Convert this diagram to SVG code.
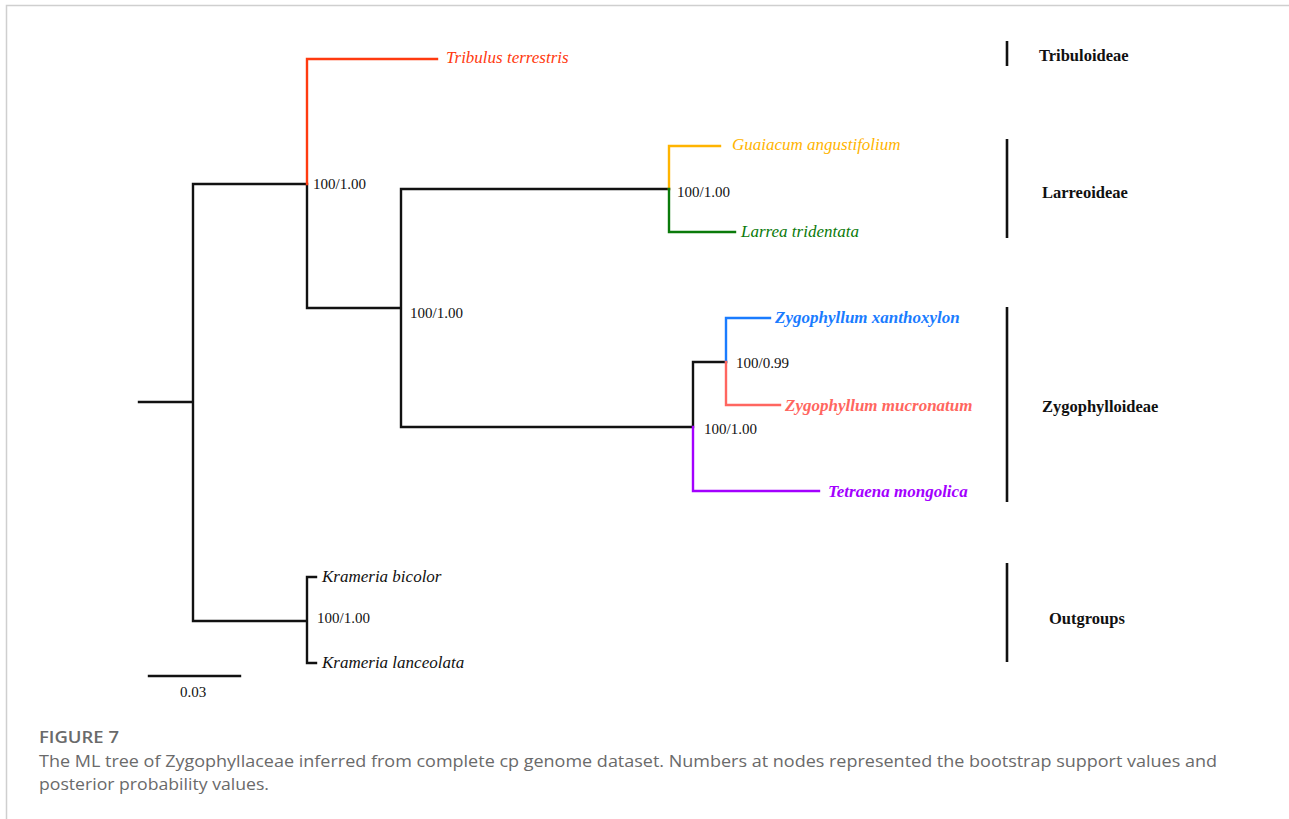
<svg xmlns="http://www.w3.org/2000/svg" width="1289" height="819" viewBox="0 0 1289 819">
<style>
.br{fill:none;stroke-width:2.4;stroke-linecap:square}
.k{stroke:#111}
.sp{font-family:"Liberation Serif","Times New Roman",serif;font-size:17px;font-style:italic}
.spb{font-family:"Liberation Serif","Times New Roman",serif;font-size:17px;font-style:italic;font-weight:bold}
.sup{font-family:"Liberation Serif","Times New Roman",serif;font-size:15px;fill:#111}
.grp{font-family:"Liberation Serif","Times New Roman",serif;font-size:16.5px;font-weight:bold;fill:#111}
.bar{stroke:#111;stroke-width:2.6}
.cap{font-family:"Open Sans","Noto Sans",sans-serif;fill:#6a6a6a;font-size:17px}
</style>
<rect x="0" y="0" width="1289" height="819" fill="#fff"/>
<path d="M6.5 819 V5.5 H1289" fill="none" stroke="#cfcfcf" stroke-width="1.5"/>
<g id="connectors">
<path class="br k" d="M139 402 H193 M193 184 V621 M193 184 H307 M307 184 V308 M307 308 H401 M401 189 V427 M401 189 H669 M401 427 H693 M693 362 V427 M693 362 H726 M193 621 H307 M307 577 V663 M307 577 H316 M307 663 H316"/>
<path class="br" stroke="#ff3a0f" d="M307 184 V59 H437"/>
<path class="br" stroke="#ffb400" d="M669 189 V146 H720"/>
<path class="br" stroke="#0a7a0a" d="M669 189 V232 H735"/>
<path class="br" stroke="#1a7cff" d="M726 362 V318 H770"/>
<path class="br" stroke="#ff6660" d="M726 362 V405 H780"/>
<path class="br" stroke="#a300ff" d="M693 427 V491 H819"/>
<path class="br k" d="M149 676 H240"/>
</g>
<g id="node-tribulus"><text class="sp" x="446" y="63" fill="#ff3a0f">Tribulus terrestris</text></g>
<g id="node-guaiacum"><text class="sp" x="732" y="150" fill="#ffb400">Guaiacum angustifolium</text></g>
<g id="node-larrea"><text class="sp" x="741" y="237" fill="#0a7a0a">Larrea tridentata</text></g>
<g id="node-zxan"><text class="spb" x="775" y="323" fill="#1a7cff">Zygophyllum xanthoxylon</text></g>
<g id="node-zmuc"><text class="spb" x="785" y="411" fill="#ff6660">Zygophyllum mucronatum</text></g>
<g id="node-tetraena"><text class="spb" x="828" y="497" fill="#a300ff">Tetraena mongolica</text></g>
<g id="node-kbicolor"><text class="sp" x="322" y="582" fill="#111">Krameria bicolor</text></g>
<g id="node-klanceolata"><text class="sp" x="322" y="668" fill="#111">Krameria lanceolata</text></g>
<g id="support">
<text class="sup" x="313" y="189">100/1.00</text>
<text class="sup" x="410" y="318">100/1.00</text>
<text class="sup" x="677" y="197">100/1.00</text>
<text class="sup" x="736" y="368">100/0.99</text>
<text class="sup" x="704" y="434">100/1.00</text>
<text class="sup" x="317" y="623">100/1.00</text>
<text class="sup" x="193" y="697" text-anchor="middle">0.03</text>
</g>
<g id="groups">
<line class="bar" x1="1007" y1="41" x2="1007" y2="66"/>
<line class="bar" x1="1007" y1="139" x2="1007" y2="238"/>
<line class="bar" x1="1007" y1="307" x2="1007" y2="502"/>
<line class="bar" x1="1007" y1="563" x2="1007" y2="662"/>
<text class="grp" x="1039" y="61">Tribuloideae</text>
<text class="grp" x="1042" y="198">Larreoideae</text>
<text class="grp" x="1042" y="412">Zygophylloideae</text>
<text class="grp" x="1049" y="624">Outgroups</text>
</g>
<g id="caption">
<text class="cap" x="39" y="743" fill="#555" font-weight="600" textLength="80" lengthAdjust="spacingAndGlyphs">FIGURE 7</text>
<text class="cap" x="39" y="767" textLength="1178" lengthAdjust="spacingAndGlyphs">The ML tree of Zygophyllaceae inferred from complete cp genome dataset. Numbers at nodes represented the bootstrap support values and</text>
<text class="cap" x="39" y="790" textLength="230" lengthAdjust="spacingAndGlyphs">posterior probability values.</text>
</g>
</svg>
